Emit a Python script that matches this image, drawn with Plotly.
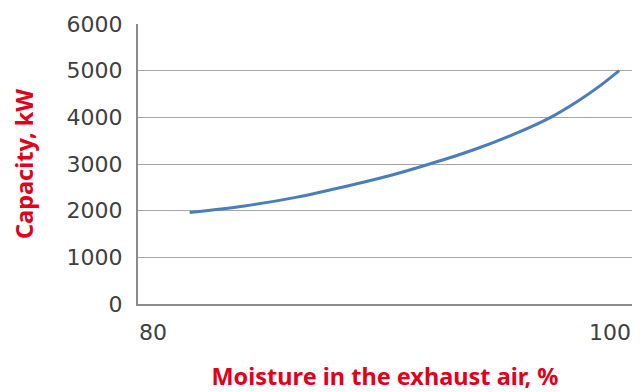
import plotly.graph_objects as go

moisture = [81.6, 84.0, 86.3, 88.6, 90.5, 92.1, 94.0, 95.8, 97.4, 98.6, 99.6, 100.4]
capacity = [1960, 2100, 2290, 2540, 2770, 3000, 3300, 3640, 4000, 4350, 4690, 5000]

x_ticks = [80, 100]
y_ticks = [0, 1000, 2000, 3000, 4000, 5000, 6000]

fig = go.Figure()
fig.add_trace(go.Scatter(
    x=moisture, y=capacity, mode="lines",
    line=dict(color="#4a7ebb", width=3, shape="spline", smoothing=0.8),
    hoverinfo="skip", showlegend=False,
))

tick_family = "'DejaVu Sans', 'Noto Sans', sans-serif"
title_family = "'Noto Sans', Lato, sans-serif"
title_font = dict(color="#e2001a", size=23.5, family=title_family, weight="bold")
# The page body adds an 8px offset, so the figure is sized 632x384.
fig.update_layout(
    width=632, height=384,
    margin=dict(l=130, r=8, t=16, b=88),
    paper_bgcolor="white", plot_bgcolor="white",
    font=dict(family=tick_family, color="#404040", size=22),
    xaxis=dict(
        range=[79.34, 100.96], tickvals=x_ticks, ticks="",
        showgrid=False, zeroline=False, automargin=False,
        showline=True, linecolor="#8c8c8c", linewidth=2,
        ticklabelstandoff=8,
        title=dict(text="Moisture in the exhaust air, %", font=title_font, standoff=24),
    ),
    yaxis=dict(
        range=[0, 6000], tickvals=y_ticks, ticks="",
        showgrid=True, gridcolor="#a6a6a6", gridwidth=1,
        zeroline=False, automargin=False,
        showline=True, linecolor="#8c8c8c", linewidth=2,
        ticklabelstandoff=9,
        title=dict(text="Capacity, kW", font=title_font, standoff=26),
    ),
)

fig.write_html("out.html")
